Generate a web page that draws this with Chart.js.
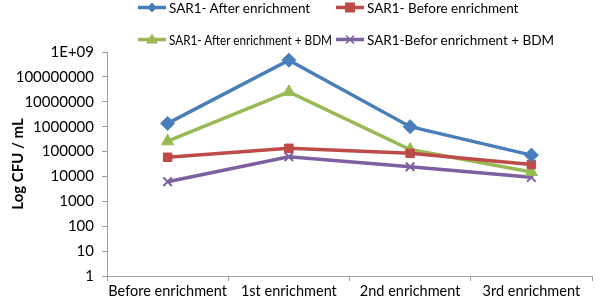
<!DOCTYPE html>
<html><head><meta charset="utf-8">
<script src="https://cdn.jsdelivr.net/npm/chart.js@4"></script>
<style>
html,body{margin:0;padding:0;background:#fff;}
#wrap{position:relative;width:600px;height:305px;}
#legend{position:absolute;left:138px;top:-1px;display:grid;grid-template-columns:198px 240px;row-gap:15px;font-family:Lato,"Open Sans",sans-serif;font-size:13.5px;color:#000;}
.item{display:flex;align-items:center;height:17px;white-space:nowrap;min-width:0;overflow:visible;}
.item svg{margin-right:3px;flex-shrink:0;}
.item span{flex-shrink:0;}
</style>
</head><body>
<div id="wrap"><canvas id="c" width="600" height="305"></canvas><div id="legend"></div></div>
<script>
const categories = ["Before enrichment","1st enrichment","2nd enrichment","3rd enrichment"];
const afterEnrichment = [1350000, 470000000, 1000000, 72000];
const beforeEnrichment = [59000, 135000, 85000, 30000];
const afterEnrichmentBDM = [260000, 25000000, 120000, 15000];
const beforEnrichmentBDM = [6100, 62000, 24500, 9200];
const seriesNames = ["SAR1- After enrichment","SAR1- Before enrichment","SAR1- After enrichment + BDM","SAR1-Befor enrichment + BDM"];
const yTickValues = [1,10,100,1000,10000,100000,1000000,10000000,100000000,1000000000];
const yTickLabels = ["1","10","100","1000","10000","100000","1000000","10000000","100000000","1E+09"];

const colors = ["#4A7EBB","#BE4B48","#98B954","#7D60A0"];
const styles = ["rectRot","rect","triangle","crossRot"];
const radii = [7,6,7,6];
const data = [afterEnrichment, beforeEnrichment, afterEnrichmentBDM, beforEnrichmentBDM];

const FONT = "Lato, 'Open Sans', sans-serif";
const chart = new Chart(document.getElementById('c'), {
  type: 'line',
  data: {
    labels: categories,
    datasets: data.map((d,i)=>({
      label: seriesNames[i], data: d,
      borderColor: colors[i], backgroundColor: colors[i],
      borderWidth: 3.5, pointStyle: styles[i], pointRadius: radii[i],
      pointBorderWidth: i===3 ? 2 : 1, pointBorderColor: colors[i],
      pointBackgroundColor: colors[i], tension: 0
    }))
  },
  options: {
    responsive: false, animation: false,
    layout: { padding: { top: 52, right: 3, left: 0, bottom: 0 } },
    plugins: { legend: { display: false }, tooltip: { enabled: false } },
    scales: {
      x: {
        offset: true,
        afterFit: s => { s.height = 29; },
        grid: { display: true, drawOnChartArea: false, offset: true, tickLength: 5, color: '#A0A0A0' },
        border: { color: '#A0A0A0' },
        ticks: { color: '#000', font: { family: FONT, size: 14.5 }, padding: 2, maxRotation: 0, autoSkip: false }
      },
      y: {
        type: 'logarithmic', min: 1, max: 1000000000,
        afterBuildTicks: s => { s.ticks = yTickValues.map(v=>({value:v})); },
        afterFit: s => { s.width = 107; },
        grid: { display: true, drawOnChartArea: false, tickLength: 5, color: '#A0A0A0' },
        border: { color: '#A0A0A0' },
        ticks: { color: '#000', font: { family: FONT, size: 15 }, padding: 8,
          callback: (v) => { const k = yTickValues.indexOf(v); return k>=0 ? yTickLabels[k] : ''; } },
        title: { display: true, text: 'Log CFU / mL', color: '#000', font: { family: FONT, size: 15, weight: 'bold' }, padding: { top: 9, bottom: 0 } }
      }
    }
  }
});

const leg = document.getElementById('legend');
function markerSvg(style, color){
  let m = '';
  const cx=14, cy=8.5;
  if(style==='rectRot') m = `<polygon points="${cx},${cy-5} ${cx+5},${cy} ${cx},${cy+5} ${cx-5},${cy}" fill="${color}"/>`;
  else if(style==='rect') m = `<rect x="${cx-5}" y="${cy-5}" width="10" height="10" fill="${color}"/>`;
  else if(style==='triangle') m = `<polygon points="${cx},${cy-6} ${cx+6},${cy+4} ${cx-6},${cy+4}" fill="${color}"/>`;
  else m = `<path d="M${cx-4} ${cy-4}L${cx+4} ${cy+4}M${cx+4} ${cy-4}L${cx-4} ${cy+4}" stroke="${color}" stroke-width="1.5"/>`;
  return `<svg width="28" height="17"><line x1="0" y1="${cy}" x2="28" y2="${cy}" stroke="${color}" stroke-width="3.5"/>${m}</svg>`;
}
chart.data.datasets.forEach((ds, i)=>{
  const d = document.createElement('div'); d.className='item';
  const span = document.createElement('span');
  span.textContent = ds.label;
  d.innerHTML = markerSvg(ds.pointStyle, ds.borderColor);
  d.appendChild(span);
  leg.appendChild(d);
});
// squeeze any label that would run into the next column
leg.querySelectorAll('.item').forEach((it, i)=>{
  const sp = it.querySelector('span');
  const maxW = (i % 2 === 0) ? 198 - 31 - 4 : 240 - 31;
  const w = sp.getBoundingClientRect().width;
  if (w > maxW) { sp.style.display='inline-block'; sp.style.transformOrigin='left center'; sp.style.transform='scaleX(' + (maxW / w) + ')'; }
});
</script>
</body></html>
